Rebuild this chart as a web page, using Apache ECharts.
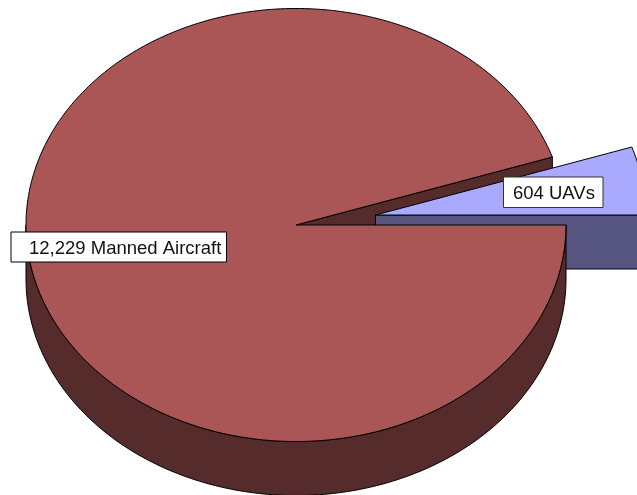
<!DOCTYPE html>
<html>
<head>
<meta charset="utf-8">
<style>html,body{margin:0;padding:0;background:#fff}#c{width:637px;height:495px}</style>
<script src="https://cdn.jsdelivr.net/npm/echarts@6/dist/echarts.min.js"></script>
</head>
<body>
<div id="c"></div>
<script>
const categories = ['Manned Aircraft', 'UAVs'];
const counts = [12229, 604];
const labelTexts = ['12,229 Manned Aircraft', '604 UAVs'];

const total = counts[0] + counts[1];
const CX = 296, CY = 225, RX = 270, RY = 216.5, DEPTH = 54;
const PERSPECTIVE = 1.08;          // apparent widening of the wedge in the tilted view
const UAV_OFFSET = [79.5, -10];    // exploded slice
const COLORS = [
  { top: '#AB5656', side: '#562B2B' },
  { top: '#A9A9FF', side: '#555580' }
];
const LABEL_BOX = [
  { x: 11, y: 232, w: 215.5, h: 30, tx: 29 },
  { x: 503.5, y: 177, w: 99.5, h: 30.5, tx: 513 }
];

function rim(cx, cy, t) {
  const a = t * Math.PI / 180;
  return [cx + RX * Math.cos(a), cy - RY * Math.sin(a)];
}
function arc(cx, cy, t0, t1) {
  const pts = [], n = Math.max(2, Math.ceil(Math.abs(t1 - t0)));
  for (let i = 0; i <= n; i++) pts.push(rim(cx, cy, t0 + (t1 - t0) * i / n));
  return pts;
}
const down = pts => pts.map(p => [p[0], p[1] + DEPTH]);
function poly(points, fill, z2) {
  return { type: 'polygon', z2, shape: { points },
    style: { fill, stroke: '#000', lineWidth: 1 } };
}
function label(i) {
  const b = LABEL_BOX[i];
  return [
    { type: 'rect', z2: 10, shape: { x: b.x, y: b.y, width: b.w, height: b.h },
      style: { fill: '#fff', stroke: i === 0 ? '#000' : '#333', lineWidth: 1 } },
    { type: 'text', z2: 11, x: b.tx, y: b.y + b.h / 2 + 1.5,
      style: { text: labelTexts[i], fill: '#111', align: 'left', verticalAlign: 'middle',
        font: '18.5px "Liberation Sans", Arial, sans-serif' } }
  ];
}

function renderItem(params, api) {
  const i = params.dataIndex;
  const sweep = api.value(0) / total * 360;
  const c = COLORS[i];
  let children;
  if (i === 0) {
    const start = (360 - sweep) * PERSPECTIVE;
    const apex = [CX, CY];
    const edge = rim(CX, CY, start);
    const front = arc(CX, CY, 180, 360);
    children = [
      poly([apex, edge, [edge[0], edge[1] + DEPTH], [apex[0], apex[1] + DEPTH]], c.side, 1),
      poly(front.concat(down(front).reverse()), c.side, 5),
      poly([apex].concat(arc(CX, CY, start, 360)), c.top, 6)
    ];
  } else {
    const x = CX + UAV_OFFSET[0], y = CY + UAV_OFFSET[1];
    const apex = [x, y];
    const end = rim(x, y, 0);
    children = [
      poly([apex, end, [end[0], end[1] + DEPTH], [apex[0], apex[1] + DEPTH]], c.side, 2),
      poly([apex].concat(arc(x, y, 0, sweep * PERSPECTIVE)), c.top, 3)
    ];
  }
  return { type: 'group', children: children.concat(label(i)) };
}

const chart = echarts.init(document.getElementById('c'), null, { renderer: 'canvas' });
chart.setOption({
  animation: false,
  backgroundColor: '#fff',
  series: [{
    type: 'custom',
    coordinateSystem: 'none',
    silent: true,
    renderItem,
    data: categories.map((name, i) => ({ name, value: [counts[i]] }))
  }]
});
</script>
</body>
</html>
